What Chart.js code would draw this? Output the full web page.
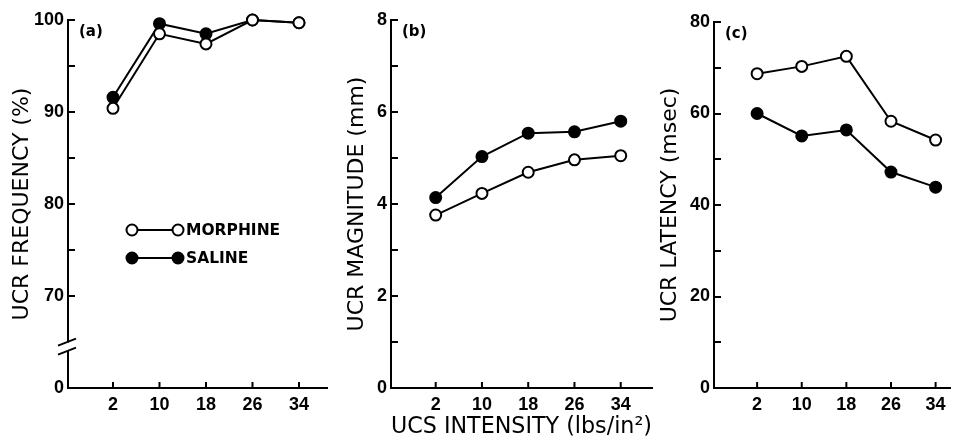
<!DOCTYPE html>
<html><head><meta charset="utf-8">
<script src="https://cdn.jsdelivr.net/npm/chart.js@4.4.0/dist/chart.umd.min.js"></script>
<style>
html,body{margin:0;padding:0;background:#fff;}
#wrap{position:relative;width:958px;height:441px;overflow:hidden;background:#fff;}
canvas{position:absolute;left:0;top:0;}
</style></head><body>
<div id="wrap">
<canvas id="ca" width="958" height="441"></canvas>
<canvas id="cb" width="958" height="441"></canvas>
<canvas id="cc" width="958" height="441"></canvas>
</div>
<script>
// ---- data ----
const intensity = [2, 10, 18, 26, 34];
const freqMorphine = [90.4, 98.5, 97.4, 100, 99.7];
const freqSaline   = [91.6, 99.6, 98.5, 100, 99.7];
const magMorphine  = [3.76, 4.23, 4.69, 4.96, 5.05];
const magSaline    = [4.14, 5.03, 5.54, 5.57, 5.80];
const latMorphine  = [68.7, 70.3, 72.5, 58.3, 54.2];
const latSaline    = [60.0, 55.1, 56.4, 47.2, 43.9];
const seriesNames  = ['MORPHINE', 'SALINE'];
const panelLabels  = ['(a)', '(b)', '(c)'];
const yTitles      = ['UCR FREQUENCY (%)', 'UCR MAGNITUDE (mm)', 'UCR LATENCY (msec)'];
const xTitle       = 'UCS INTENSITY (lbs/in²)';

const FONT = 'DejaVu Sans';
const TICKFONT = 'Liberation Sans';

function ds(name, vals, filled) {
  return {
    label: name,
    data: intensity.map((x, i) => ({x: x, y: vals[i]})),
    borderColor: '#000', borderWidth: 2,
    pointRadius: 5.5, pointBorderWidth: 2,
    pointBackgroundColor: filled ? '#000' : '#fff',
    pointBorderColor: '#000',
    tension: 0, clip: false, fill: false
  };
}

const decoPlugin = {
  id: 'deco',
  afterDraw(chart, args, opts) {
    const {ctx, chartArea} = chart;
    const {left, top, bottom} = chartArea;
    const xs = chart.scales.x, ys = chart.scales.y;
    ctx.save();
    ctx.strokeStyle = '#000';
    ctx.fillStyle = '#000';
    ctx.lineWidth = 2;
    // inward x ticks
    xs.ticks.forEach(t => {
      const px = xs.getPixelForValue(t.value);
      ctx.beginPath(); ctx.moveTo(px, bottom); ctx.lineTo(px, bottom - 6); ctx.stroke();
    });
    // inward y ticks
    ys.ticks.forEach(t => {
      if (opts.hideTick && opts.hideTick(t.value)) return;
      const py = Math.round(ys.getPixelForValue(t.value));
      ctx.beginPath(); ctx.moveTo(left, py); ctx.lineTo(left + 7, py); ctx.stroke();
    });
    // panel label
    ctx.font = 'bold 15px ' + FONT;
    ctx.textBaseline = 'middle';
    ctx.textAlign = 'left';
    ctx.fillText(opts.label, left + 11, top + 12);
    // axis break
    if (opts.breakAt !== undefined) {
      const c = ys.getPixelForValue(opts.breakAt);
      ctx.fillStyle = '#fff';
      ctx.fillRect(left - 3, c - 4, 6, 8);
      ctx.beginPath();
      ctx.moveTo(left - 10, c - 1); ctx.lineTo(left + 8, c - 8);
      ctx.moveTo(left - 10, c + 8); ctx.lineTo(left + 8, c + 1);
      ctx.stroke();
    }
    // legend
    if (opts.legend) {
      const [lx, ly, gap] = opts.legend;
      chart.data.datasets.forEach((d, i) => {
        const y = ly + i * gap;
        ctx.strokeStyle = '#000'; ctx.lineWidth = 2;
        ctx.beginPath(); ctx.moveTo(lx, y); ctx.lineTo(lx + 46, y); ctx.stroke();
        [lx, lx + 46].forEach(cx => {
          ctx.beginPath(); ctx.arc(cx, y, 5.5, 0, Math.PI * 2);
          ctx.fillStyle = d.pointBackgroundColor; ctx.fill(); ctx.stroke();
        });
        ctx.fillStyle = '#000';
        ctx.font = 'bold 15.5px ' + FONT;
        ctx.fillText(d.label, lx + 54, y + 1);
      });
    }
    ctx.restore();
  }
};

function makePanel(id, cfg) {
  return new Chart(document.getElementById(id), {
    type: 'line',
    data: { datasets: [ds(seriesNames[0], cfg.m, false), ds(seriesNames[1], cfg.s, true)] },
    options: {
      responsive: false, animation: false, events: [],
      layout: { padding: { left: cfg.padL, right: cfg.padR, top: cfg.padT, bottom: 0 } },
      plugins: {
        legend: { display: false }, tooltip: { enabled: false },
        deco: { label: cfg.label, breakAt: cfg.breakAt, legend: cfg.legend, hideTick: cfg.hideTick }
      },
      scales: {
        x: {
          type: 'linear', min: cfg.xmin, max: cfg.xmax,
          afterBuildTicks: s => { s.ticks = intensity.map(v => ({value: v})); },
          afterFit: s => { s.height = 441 - 388; },
          grid: { display: false, drawTicks: false },
          border: { display: true, color: '#000', width: 2 },
          ticks: { padding: 6, color: '#000', font: { family: TICKFONT, weight: 'bold', size: 18 } },
          title: cfg.xTitle ? { display: true, text: cfg.xTitle, align: 'start', color: '#000',
                   font: { family: FONT, size: 23 }, padding: { top: 0, bottom: 0 } } : { display: false }
        },
        y: {
          type: 'linear', min: cfg.ymin, max: cfg.ymax,
          afterFit: s => { s.width = cfg.yw; },
          ticks: { stepSize: cfg.step, padding: 4, color: '#000', autoSkip: false,
                   font: { family: TICKFONT, weight: 'bold', size: 18 },
                   callback: cfg.tickCb },
          grid: { display: false, drawTicks: false },
          border: { display: true, color: '#000', width: 2 },
          title: { display: true, text: cfg.yTitle, color: '#000',
                   font: { family: FONT, size: 22 }, padding: { top: 9, bottom: 0 } }
        }
      }
    },
    plugins: [decoPlugin]
  });
}

makePanel('ca', {
  m: freqMorphine, s: freqSaline, label: panelLabels[0], yTitle: yTitles[0],
  padL: 0, padR: 958 - 327, padT: 20, yw: 68,
  xmin: -5.74, xmax: 38.82, ymin: 60, ymax: 100, step: 5,
  tickCb: v => (v % 10 === 0 ? (v === 60 ? '0' : String(v)) : ''),
  hideTick: v => v === 65 || v === 60,
  breakAt: 64.5, legend: [132, 230, 28]
});
makePanel('cb', {
  m: magMorphine, s: magSaline, label: panelLabels[1], yTitle: yTitles[1], xTitle: xTitle,
  padL: 335, padR: 958 - 652, padT: 20, yw: 56,
  xmin: -5.73, xmax: 39.41, ymin: 0, ymax: 8, step: 1,
  tickCb: v => (v % 2 === 0 ? String(v) : ''),
  hideTick: v => v === 0
});
makePanel('cc', {
  m: latMorphine, s: latSaline, label: panelLabels[2], yTitle: yTitles[2],
  padL: 648, padR: 1, padT: 22, yw: 66,
  xmin: -5.73, xmax: 36.67, ymin: 0, ymax: 80, step: 10,
  tickCb: v => (v % 20 === 0 ? String(v) : ''),
  hideTick: v => v === 0
});
</script>
</body></html>
